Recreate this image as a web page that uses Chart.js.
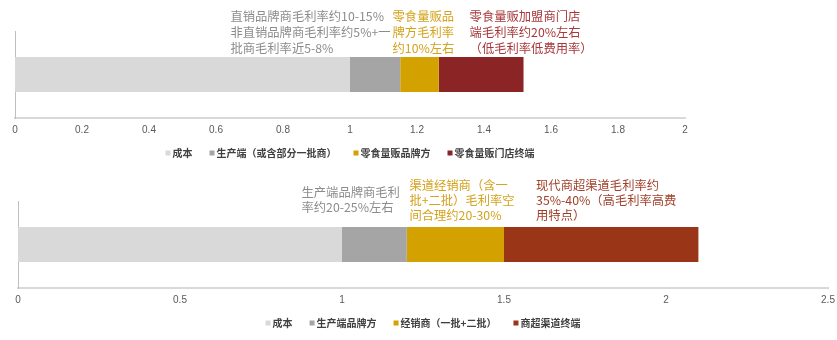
<!DOCTYPE html>
<html>
<head>
<meta charset="utf-8">
<script src="https://cdn.jsdelivr.net/npm/chart.js@4.4.1/dist/chart.umd.min.js"></script>
<style>
  html, body { margin: 0; padding: 0; background: #ffffff; }
  .box { width: 837px; height: 170px; position: relative; }
  canvas { display: block; }
</style>
</head>
<body>
<div class="box"><canvas id="c1" width="837" height="170"></canvas></div>
<div class="box"><canvas id="c2" width="837" height="170"></canvas></div>
<script>
// ---------- Data: top chart (零食量贩渠道) ----------
const topCategories = [''];
const topSeriesNames = ['成本', '生产端（或含部分一批商）', '零食量贩品牌方', '零食量贩门店终端'];
const topCost = [1.0];
const topProducer = [0.15];
const topBrand = [0.115];
const topStore = [0.253];
const topTickLabels = ['0', '0.2', '0.4', '0.6', '0.8', '1', '1.2', '1.4', '1.6', '1.8', '2'];

// ---------- Data: bottom chart (商超渠道) ----------
const botCategories = [''];
const botSeriesNames = ['成本', '生产端品牌方', '经销商（一批+二批）', '商超渠道终端'];
const botCost = [1.0];
const botProducer = [0.2];
const botDistributor = [0.3];
const botRetail = [0.6];
const botTickLabels = ['0', '0.5', '1', '1.5', '2', '2.5'];

// ---------- Annotation texts ----------
const topNotes = [
  ['直销品牌商毛利率约10-15%', '非直销品牌商毛利率约5%+一', '批商毛利率近5-8%'],
  ['零食量贩品', '牌方毛利率', '约10%左右'],
  ['零食量贩加盟商门店', '端毛利率约20%左右', '（低毛利率低费用率）']
];
const botNotes = [
  ['生产端品牌商毛利', '率约20-25%左右'],
  ['渠道经销商（含一', '批+二批）毛利率空', '间合理约20-30%'],
  ['现代商超渠道毛利率约', '35%-40%（高毛利率高费', '用特点）']
];

// ---------- Styling ----------
const FONT = "'Liberation Sans', 'Noto Sans CJK SC', sans-serif";
const CJK = "'Noto Sans CJK SC', 'Liberation Sans', sans-serif";
const colLight = '#d9d9d9';
const colGray = '#a5a5a5';
const colGold = '#d4a200';

const noteStyleTop = [
  { at: 0.643, y: 16, lh: 16, color: '#8c8c8c' },
  { at: 1.127, y: 16, lh: 16, color: '#d4a21c' },
  { at: 1.357, y: 16, lh: 16, color: '#a8383a' }
];
const noteStyleBot = [
  { at: 0.875, y: 22.5, lh: 14.5, color: '#8c8c8c' },
  { at: 1.208, y: 15, lh: 15, color: '#d4a21c' },
  { at: 1.599, y: 15, lh: 15, color: '#a0402a' }
];

function notesPlugin(notes, styles) {
  return {
    id: 'notes',
    afterDraw(chart) {
      const ctx = chart.ctx;
      const xs = chart.scales.x;
      ctx.save();
      ctx.font = "12.3px " + CJK;
      ctx.textAlign = 'left';
      ctx.textBaseline = 'middle';
      notes.forEach((lines, i) => {
        const st = styles[i];
        ctx.fillStyle = st.color;
        const x = xs.getPixelForValue(st.at);
        lines.forEach((t, j) => ctx.fillText(t, x, st.y + j * st.lh));
      });
      ctx.restore();
    }
  };
}

// Legend drawn centred under the plot area (like the original)
const legendPlugin = {
  id: 'customLegend',
  afterDraw(chart) {
    const ctx = chart.ctx;
    const area = chart.chartArea;
    const y = 153;
    const box = 5, gapIn = 2, gapOut = 17;
    ctx.save();
    ctx.font = "bold 10px " + CJK;
    ctx.textBaseline = 'middle';
    ctx.textAlign = 'left';
    const items = chart.data.datasets.map(ds => ({
      text: ds.label, color: ds.backgroundColor, w: ctx.measureText(ds.label).width
    }));
    const total = items.reduce((s, it) => s + box + gapIn + it.w, 0) + gapOut * (items.length - 1);
    let x = (area.left + area.right) / 2 - total / 2;
    items.forEach(it => {
      ctx.fillStyle = it.color;
      ctx.fillRect(x, y - box / 2, box, box);
      x += box + gapIn;
      ctx.fillStyle = '#404040';
      ctx.fillText(it.text, x, y);
      x += it.w + gapOut;
    });
    ctx.restore();
  }
};

function makeChart(id, cats, names, series, colors, max, step, tickLabels, pad, notes, noteStyles) {
  return new Chart(document.getElementById(id), {
    type: 'bar',
    data: {
      labels: cats,
      datasets: series.map((d, i) => ({
        label: names[i],
        data: d,
        backgroundColor: colors[i],
        borderWidth: 0,
        categoryPercentage: 0.8,
        barPercentage: 0.5
      }))
    },
    options: {
      indexAxis: 'y',
      responsive: false,
      animation: false,
      layout: { padding: pad },
      plugins: {
        tooltip: { enabled: false },
        legend: { display: false }
      },
      scales: {
        x: {
          stacked: true,
          min: 0,
          max: max,
          grid: { display: false, drawTicks: false },
          border: { display: true, color: '#d9d9d9', width: 2 },
          ticks: {
            stepSize: step,
            padding: 6,
            color: '#595959',
            font: { family: FONT, size: 10 },
            callback: (v, i) => tickLabels[i]
          },
          afterFit(scale) {
            scale.height = 18;
            scale.paddingRight = 3;
            scale.paddingLeft = 3;
          }
        },
        y: {
          stacked: true,
          grid: { display: false, drawTicks: false },
          border: { display: true, color: '#bfbfbf', width: 1 },
          ticks: { display: false }
        }
      }
    },
    plugins: [notesPlugin(notes, noteStyles), legendPlugin]
  });
}

makeChart('c1', topCategories, topSeriesNames,
  [topCost, topProducer, topBrand, topStore],
  [colLight, colGray, colGold, '#8b2525'],
  2, 0.2, topTickLabels,
  { top: 31, left: 15, right: 152, bottom: 34 },
  topNotes, noteStyleTop);

makeChart('c2', botCategories, botSeriesNames,
  [botCost, botProducer, botDistributor, botRetail],
  [colLight, colGray, colGold, '#9a3518'],
  2.5, 0.5, botTickLabels,
  { top: 31, left: 18, right: 9, bottom: 34 },
  botNotes, noteStyleBot);
</script>
</body>
</html>
